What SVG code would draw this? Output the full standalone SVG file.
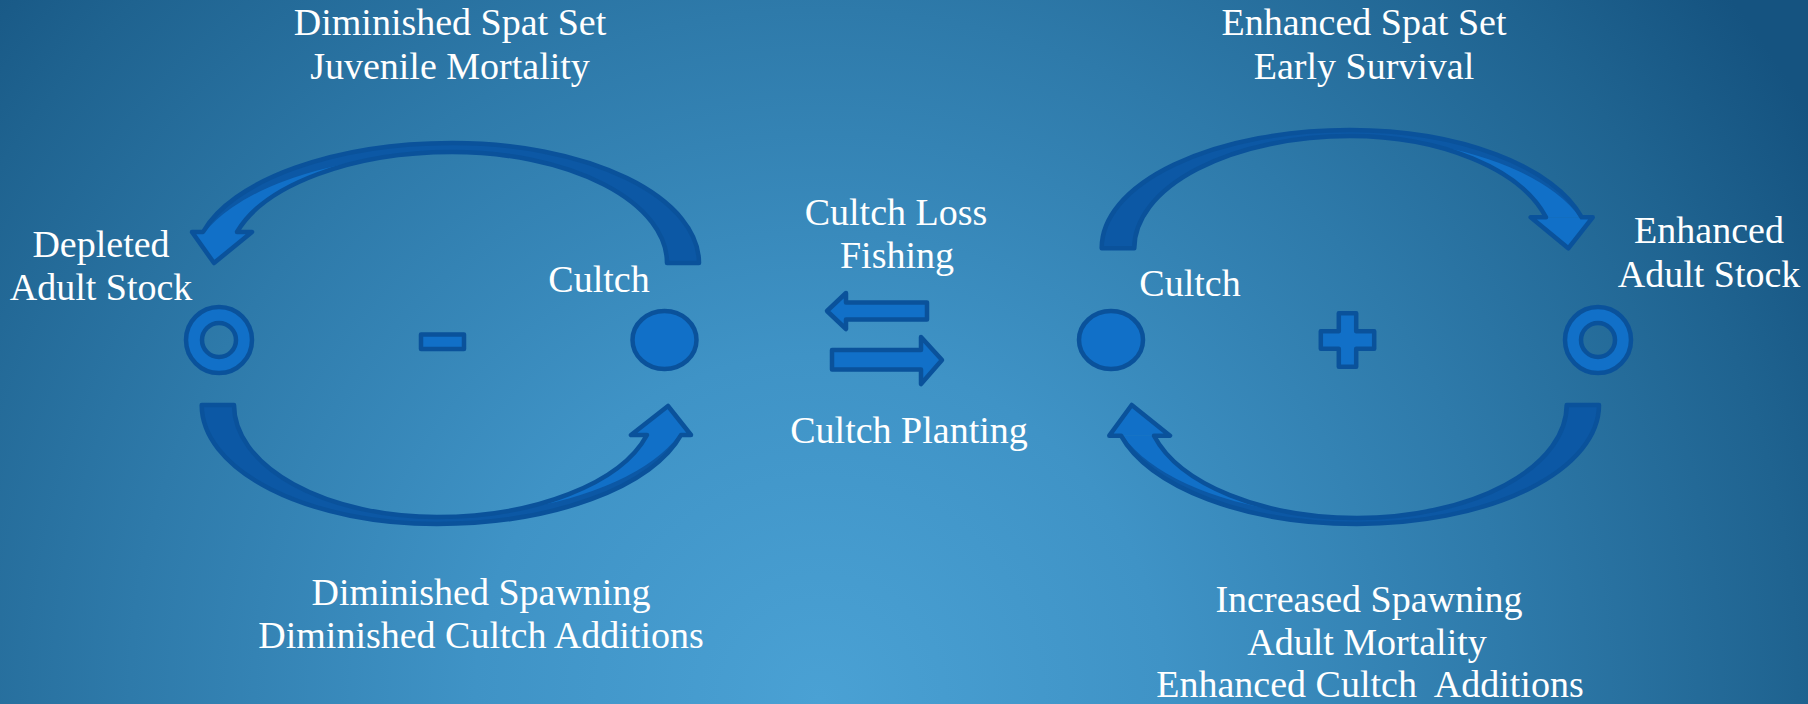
<svg xmlns="http://www.w3.org/2000/svg" width="1808" height="704" viewBox="0 0 1808 704">
  <defs>
    <radialGradient id="bg" gradientUnits="userSpaceOnUse" cx="820" cy="700" r="1150">
      <stop offset="0" stop-color="#4aa1d4"/>
      <stop offset="0.3" stop-color="#3f93c6"/>
      <stop offset="0.6" stop-color="#2e7aaa"/>
      <stop offset="0.85" stop-color="#1f6390"/>
      <stop offset="1" stop-color="#155380"/>
    </radialGradient>
  </defs>
  <style>
    .lbl { font-family: "Liberation Serif", "Times New Roman", serif; font-size: 38px; fill: #ffffff; text-anchor: middle; }
    .pre { white-space: pre; }
    .shape { fill: #1170c8; stroke: #0a529b; stroke-width: 4.5; stroke-linejoin: round; }
    .back { fill: #0c58a5; stroke: none; }
    .front { fill: #1170c8; stroke: none; }
    .edge { fill: none; stroke: #0a529b; stroke-width: 4.5; stroke-linejoin: round; }
  </style>

  <rect width="1808" height="704" fill="url(#bg)"/>

  <!-- loop arrows and transfer arrows -->
  <g id="connectors">
    <!-- left loop, upper: Cultch -> Depleted Adult Stock -->
    <g id="arc-left-top">
      <path class="back" d="M699,263 A246,120 0 0 0 453,143 A258,120 0 0 0 203,232 L237,232 A224,111 0 0 1 452,152 A215,111 0 0 1 667,263 Z"/>
      <path class="front" d="M205,232 A258,120 0 0 1 370,159.7 A224,111 0 0 0 237,232 Z"/>
      <path class="front" d="M192,232 L214,263 L252,232 Z"/>
      <path class="edge" d="M699,263 A246,120 0 0 0 453,143 A258,120 0 0 0 203,232 L192,232 L214,263 L252,232 L237,232 A224,111 0 0 1 452,152 A215,111 0 0 1 667,263 Z"/>
    </g>
    <!-- left loop, lower: Depleted Adult Stock -> Cultch -->
    <g id="arc-left-bottom">
      <path class="back" d="M201.7,405 A235,119 0 0 0 437,524 A252,119 0 0 0 681,435 L647,435 A218,112 0 0 1 437,517 A203,112 0 0 1 234,405 Z"/>
      <path class="front" d="M679,435 A252,119 0 0 1 515,509.6 A218,112 0 0 0 647,435 Z"/>
      <path class="front" d="M691,435 L668,406 L631,435 Z"/>
      <path class="edge" d="M201.7,405 A235,119 0 0 0 437,524 A252,119 0 0 0 681,435 L691,435 L668,406 L631,435 L647,435 A218,112 0 0 1 437,517 A203,112 0 0 1 234,405 Z"/>
    </g>
    <!-- right loop, upper: Cultch -> Enhanced Adult Stock -->
    <g id="arc-right-top">
      <path class="back" d="M1101.7,248.3 A248,118 0 0 1 1350,130 A240,118 0 0 1 1581.7,217.3 L1546,217.3 A204,112 0 0 0 1350,136 A216,112 0 0 0 1134.3,248.3 Z"/>
      <path class="front" d="M1579.7,217.3 A240,118 0 0 0 1425,144.1 A204,112 0 0 1 1546,217.3 Z"/>
      <path class="front" d="M1592.7,217.3 L1568.3,248.3 L1530.7,217.3 Z"/>
      <path class="edge" d="M1101.7,248.3 A248,118 0 0 1 1350,130 A240,118 0 0 1 1581.7,217.3 L1592.7,217.3 L1568.3,248.3 L1530.7,217.3 L1546,217.3 A204,112 0 0 0 1350,136 A216,112 0 0 0 1134.3,248.3 Z"/>
    </g>
    <!-- right loop, lower: Enhanced Adult Stock -> Cultch -->
    <g id="arc-right-bottom">
      <path class="back" d="M1599,405 A242,119 0 0 1 1357,524 A244,119 0 0 1 1121,435.7 L1154,435.7 A211,113 0 0 0 1357,518 A209.7,113 0 0 0 1566.7,405 Z"/>
      <path class="front" d="M1123,435.7 A244,119 0 0 0 1290,512.2 A211,113 0 0 1 1154,435.7 Z"/>
      <path class="front" d="M1109.3,435.7 L1131.7,405 L1170,435.7 Z"/>
      <path class="edge" d="M1599,405 A242,119 0 0 1 1357,524 A244,119 0 0 1 1121,435.7 L1109.3,435.7 L1131.7,405 L1170,435.7 L1154,435.7 A211,113 0 0 0 1357,518 A209.7,113 0 0 0 1566.7,405 Z"/>
    </g>
    <!-- transfer between the two loops -->
    <path id="arrow-loss" class="shape" d="M927,302.5 L846,302.5 L846,293 L827,311 L846,329 L846,319.5 L927,319.5 Z"/>
    <path id="arrow-planting" class="shape" d="M832,350 L921,350 L921,337 L942,360 L921,384 L921,369.5 L832,369.5 Z"/>
  </g>

  <!-- left loop -->
  <g id="node-depleted-stock">
    <path class="shape" fill-rule="evenodd" d="M252,340 A33,33 0 1 1 186,340 A33,33 0 1 1 252,340 Z M236,340 A17,17 0 1 0 202,340 A17,17 0 1 0 236,340 Z"/>
    <text class="lbl" x="101" y="257">Depleted</text>
    <text class="lbl" x="101" y="300">Adult Stock</text>
  </g>
  <g id="node-minus">
    <rect class="shape" x="421" y="334.5" width="43" height="14.5"/>
  </g>
  <g id="node-cultch-left">
    <ellipse class="shape" cx="664.5" cy="340" rx="32" ry="29"/>
    <text class="lbl" x="599" y="292">Cultch</text>
  </g>

  <!-- right loop -->
  <g id="node-cultch-right">
    <ellipse class="shape" cx="1111" cy="340" rx="32" ry="29"/>
    <text class="lbl" x="1190" y="296">Cultch</text>
  </g>
  <g id="node-plus">
    <path class="shape" d="M1338.8,313.3 H1356.2 V331.3 H1374.2 V348.7 H1356.2 V366.7 H1338.8 V348.7 H1320.8 V331.3 H1338.8 Z"/>
  </g>
  <g id="node-enhanced-stock">
    <path class="shape" fill-rule="evenodd" d="M1631,340 A33,33 0 1 1 1565,340 A33,33 0 1 1 1631,340 Z M1615,340 A17,17 0 1 0 1581,340 A17,17 0 1 0 1615,340 Z"/>
    <text class="lbl" x="1709" y="243">Enhanced</text>
    <text class="lbl" x="1709" y="287">Adult Stock</text>
  </g>

  <!-- flow labels -->
  <g id="labels">
    <text class="lbl" x="450" y="35">Diminished Spat Set</text>
    <text class="lbl" x="450" y="79">Juvenile Mortality</text>
    <text class="lbl" x="1364" y="35">Enhanced Spat Set</text>
    <text class="lbl" x="1364" y="79">Early Survival</text>
    <text class="lbl" x="896" y="225">Cultch Loss</text>
    <text class="lbl" x="897" y="268">Fishing</text>
    <text class="lbl" x="909" y="443">Cultch Planting</text>
    <text class="lbl" x="481" y="605">Diminished Spawning</text>
    <text class="lbl" x="481" y="648">Diminished Cultch Additions</text>
    <text class="lbl" x="1369" y="612">Increased Spawning</text>
    <text class="lbl" x="1367" y="655">Adult Mortality</text>
    <text class="lbl pre" x="1370" y="697">Enhanced Cultch  Additions</text>
  </g>
</svg>
